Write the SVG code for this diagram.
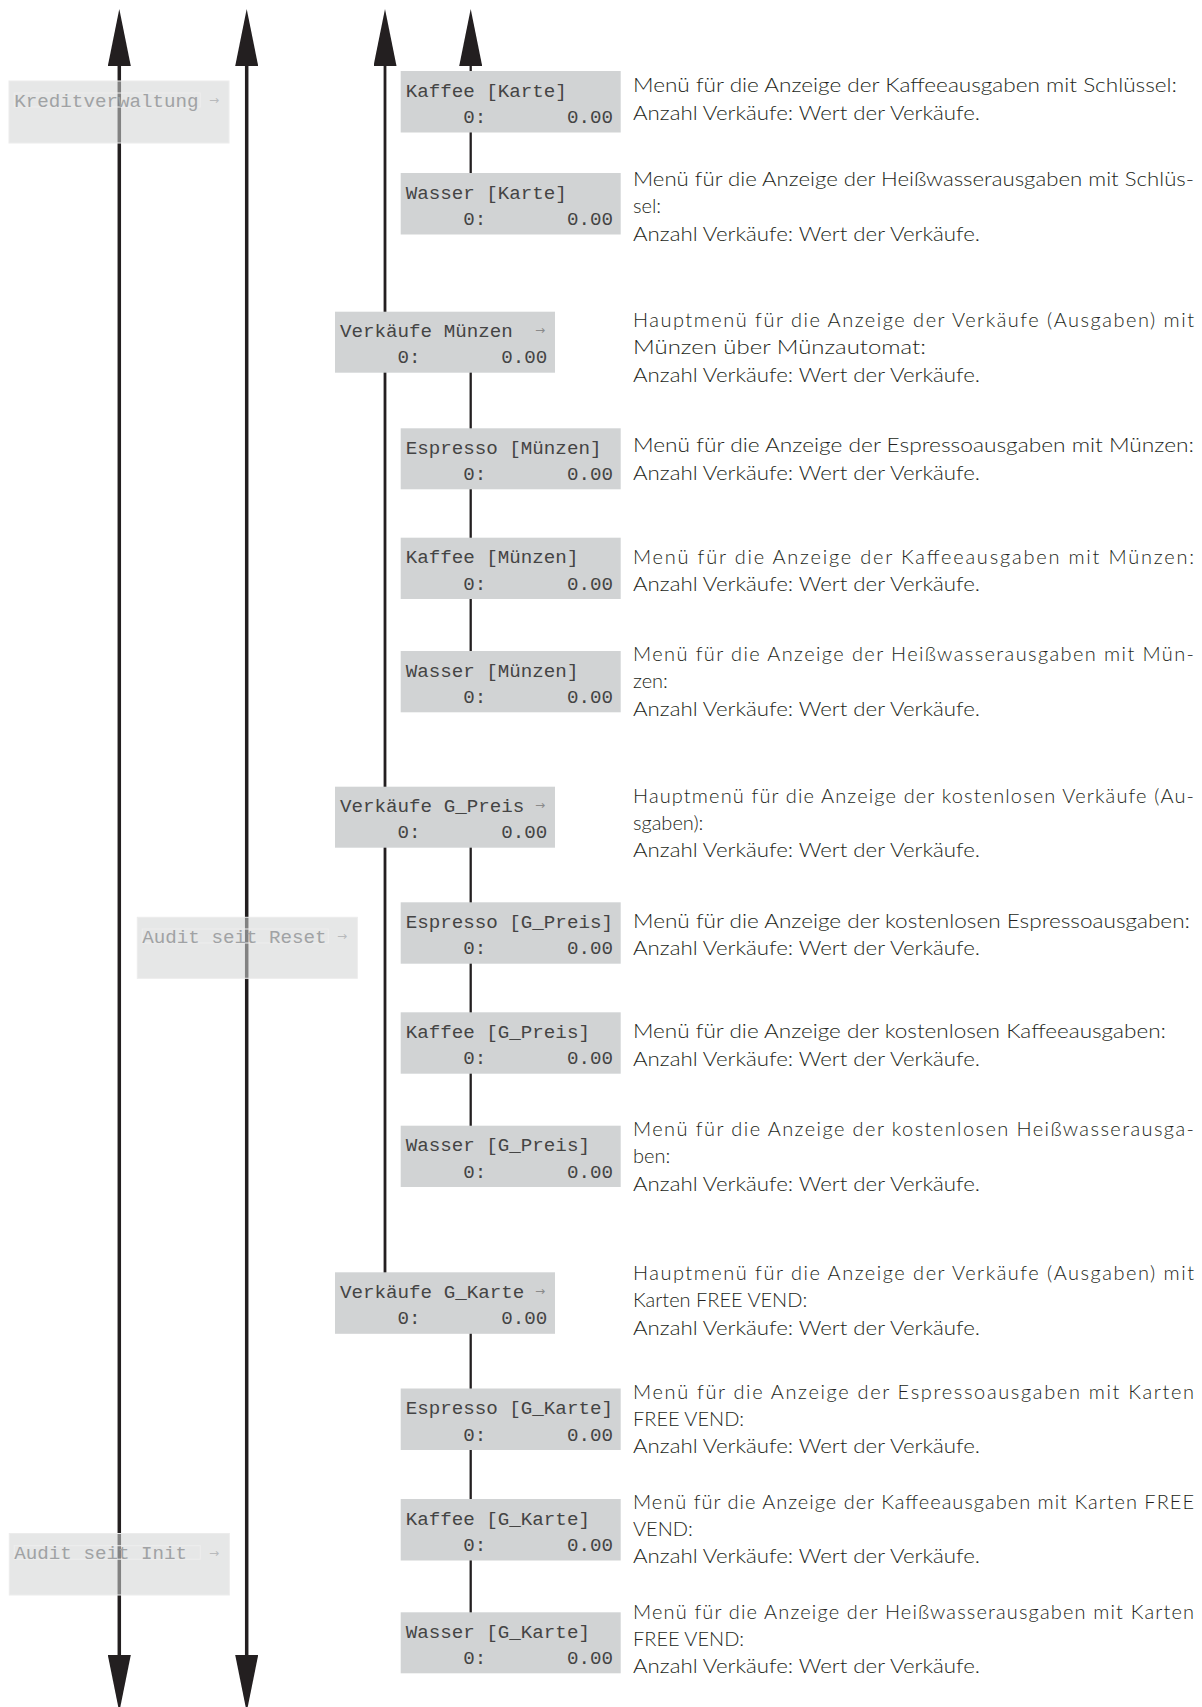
<svg xmlns="http://www.w3.org/2000/svg" width="1202" height="1707" viewBox="0 0 1202 1707">
<style>
.ln{stroke:#231f20;fill:none}
.main{stroke-width:3.5}
.mid{stroke-width:2.8}
.con{stroke-width:2.3}
.box{fill:#d1d3d4}
.lcd{font-family:"Liberation Mono",monospace;font-size:19.2px;fill:#444444;white-space:pre}
.arr{font-family:"DejaVu Sans",sans-serif;font-size:12px;fill:#8a8a8a}
.fbox{fill:#d1d3d4;fill-opacity:0.55;stroke:#ececec;stroke-width:1}
.flcd{font-family:"Liberation Mono",monospace;font-size:19.2px;fill:#a0a2a4;white-space:pre}
.fhl{fill:none;stroke:#eeeeee;stroke-width:1}
.d{font-family:Lato,"Liberation Sans",sans-serif;font-weight:300;font-size:20px;fill:#231f20}
</style>
<defs>
<marker id="ah" viewBox="0 0 57 23" refX="0" refY="11.5" markerWidth="57" markerHeight="23" markerUnits="userSpaceOnUse" orient="auto-start-reverse">
<path d="M0,0 L57,11.5 L0,23 Z" fill="#231f20"/>
</marker>
</defs>

<g id="connectors">
<line class="ln main" x1="119.3" y1="66" x2="119.3" y2="1655" marker-start="url(#ah)" marker-end="url(#ah)"/>
<line class="ln main" x1="246.7" y1="66" x2="246.7" y2="1655" marker-start="url(#ah)" marker-end="url(#ah)"/>
<line class="ln mid" x1="385" y1="66" x2="385" y2="1273" marker-start="url(#ah)"/>
<line class="ln con" x1="470.7" y1="66" x2="470.7" y2="174" marker-start="url(#ah)"/>
<line class="ln con" x1="470.7" y1="372" x2="470.7" y2="652"/>
<line class="ln con" x1="470.7" y1="847" x2="470.7" y2="1127"/>
<line class="ln con" x1="470.7" y1="1333" x2="470.7" y2="1613"/>
</g>

<g id="kreditverwaltung">
<rect class="fbox" x="9" y="81" width="220" height="62"/>
<rect class="fhl" x="14.3" y="93" width="186" height="14"/>
<text class="flcd" x="14.3" y="106.5">Kreditverwaltung</text>
<text class="arr" style="fill:#b8babc" x="209" y="104">→</text>
</g>

<g id="audit-reset">
<rect class="fbox" x="137.3" y="917.3" width="220" height="61"/>
<rect class="fhl" x="142.3" y="929" width="186" height="14"/>
<text class="flcd" x="142.3" y="942.5">Audit seit Reset</text>
<text class="arr" style="fill:#b8babc" x="337" y="940">→</text>
</g>

<g id="audit-init">
<rect class="fbox" x="9.3" y="1533.5" width="220" height="61.5"/>
<rect class="fhl" x="14.3" y="1545.7" width="186" height="13.5"/>
<text class="flcd" x="14.3" y="1559">Audit seit Init</text>
<text class="arr" style="fill:#b8babc" x="209" y="1556.5">→</text>
</g>

<g id="kaffee-karte">
<rect class="box" x="400.7" y="71" width="220" height="61.5"/>
<text class="lcd" x="405.7" y="96.5">Kaffee [Karte]</text>
<text class="lcd" x="405.7" y="123">     0:       0.00</text>
</g>
<g id="wasser-karte">
<rect class="box" x="400.7" y="173" width="220" height="61.5"/>
<text class="lcd" x="405.7" y="198.5">Wasser [Karte]</text>
<text class="lcd" x="405.7" y="225">     0:       0.00</text>
</g>
<g id="verkaeufe-muenzen">
<rect class="box" x="335" y="311.7" width="220" height="61"/>
<text class="lcd" x="340" y="336.7">Verkäufe Münzen</text>
<text class="arr" x="535" y="334">→</text>
<text class="lcd" x="340" y="363.3">     0:       0.00</text>
</g>
<g id="espresso-muenzen">
<rect class="box" x="400.7" y="428.3" width="220" height="61"/>
<text class="lcd" x="405.7" y="453.8">Espresso [Münzen]</text>
<text class="lcd" x="405.7" y="480.3">     0:       0.00</text>
</g>
<g id="kaffee-muenzen">
<rect class="box" x="400.7" y="537.7" width="220" height="61.3"/>
<text class="lcd" x="405.7" y="563.2">Kaffee [Münzen]</text>
<text class="lcd" x="405.7" y="589.7">     0:       0.00</text>
</g>
<g id="wasser-muenzen">
<rect class="box" x="400.7" y="651" width="220" height="61.3"/>
<text class="lcd" x="405.7" y="676.5">Wasser [Münzen]</text>
<text class="lcd" x="405.7" y="703">     0:       0.00</text>
</g>
<g id="verkaeufe-gpreis">
<rect class="box" x="335" y="786.7" width="220" height="61"/>
<text class="lcd" x="340" y="811.7">Verkäufe G_Preis</text>
<text class="arr" x="535" y="809">→</text>
<text class="lcd" x="340" y="838.3">     0:       0.00</text>
</g>
<g id="espresso-gpreis">
<rect class="box" x="400.7" y="902.3" width="220" height="61.4"/>
<text class="lcd" x="405.7" y="927.8">Espresso [G_Preis]</text>
<text class="lcd" x="405.7" y="954.3">     0:       0.00</text>
</g>
<g id="kaffee-gpreis">
<rect class="box" x="400.7" y="1012.3" width="220" height="61.4"/>
<text class="lcd" x="405.7" y="1037.8">Kaffee [G_Preis]</text>
<text class="lcd" x="405.7" y="1064.3">     0:       0.00</text>
</g>
<g id="wasser-gpreis">
<rect class="box" x="400.7" y="1125.7" width="220" height="61.3"/>
<text class="lcd" x="405.7" y="1151.2">Wasser [G_Preis]</text>
<text class="lcd" x="405.7" y="1177.7">     0:       0.00</text>
</g>
<g id="verkaeufe-gkarte">
<rect class="box" x="335" y="1272.3" width="220" height="61.5"/>
<text class="lcd" x="340" y="1297.8">Verkäufe G_Karte</text>
<text class="arr" x="535" y="1295">→</text>
<text class="lcd" x="340" y="1324.3">     0:       0.00</text>
</g>
<g id="espresso-gkarte">
<rect class="box" x="400.7" y="1388.5" width="220" height="61.5"/>
<text class="lcd" x="405.7" y="1414">Espresso [G_Karte]</text>
<text class="lcd" x="405.7" y="1440.5">     0:       0.00</text>
</g>
<g id="kaffee-gkarte">
<rect class="box" x="400.7" y="1499" width="220" height="61.5"/>
<text class="lcd" x="405.7" y="1524.5">Kaffee [G_Karte]</text>
<text class="lcd" x="405.7" y="1551">     0:       0.00</text>
</g>
<g id="wasser-gkarte">
<rect class="box" x="400.7" y="1612.3" width="220" height="61"/>
<text class="lcd" x="405.7" y="1637.8">Wasser [G_Karte]</text>
<text class="lcd" x="405.7" y="1664.3">     0:       0.00</text>
</g>

<g id="descriptions">
<text class="d" x="633" y="91.5" textLength="544" lengthAdjust="spacingAndGlyphs">Menü für die Anzeige der Kaffeeausgaben mit Schlüssel:</text>
<text class="d" x="633" y="119.5" textLength="347" lengthAdjust="spacingAndGlyphs">Anzahl Verkäufe: Wert der Verkäufe.</text>

<text class="d" x="633" y="186" textLength="561" lengthAdjust="spacingAndGlyphs">Menü für die Anzeige der Heißwasserausgaben mit Schlüs-</text>
<text class="d" x="633" y="213.3">sel:</text>
<text class="d" x="633" y="240.6" textLength="347" lengthAdjust="spacingAndGlyphs">Anzahl Verkäufe: Wert der Verkäufe.</text>

<text class="d" x="633" y="327" textLength="561" lengthAdjust="spacing">Hauptmenü für die Anzeige der Verkäufe (Ausgaben) mit</text>
<text class="d" x="633" y="354.3" textLength="293" lengthAdjust="spacingAndGlyphs">Münzen über Münzautomat:</text>
<text class="d" x="633" y="381.6" textLength="347" lengthAdjust="spacingAndGlyphs">Anzahl Verkäufe: Wert der Verkäufe.</text>

<text class="d" x="633" y="452" textLength="561" lengthAdjust="spacingAndGlyphs">Menü für die Anzeige der Espressoausgaben mit Münzen:</text>
<text class="d" x="633" y="479.5" textLength="347" lengthAdjust="spacingAndGlyphs">Anzahl Verkäufe: Wert der Verkäufe.</text>

<text class="d" x="633" y="563.5" textLength="561" lengthAdjust="spacing">Menü für die Anzeige der Kaffeeausgaben mit Münzen:</text>
<text class="d" x="633" y="590.5" textLength="347" lengthAdjust="spacingAndGlyphs">Anzahl Verkäufe: Wert der Verkäufe.</text>

<text class="d" x="633" y="660.5" textLength="561" lengthAdjust="spacing">Menü für die Anzeige der Heißwasserausgaben mit Mün-</text>
<text class="d" x="633" y="688">zen:</text>
<text class="d" x="633" y="715.5" textLength="347" lengthAdjust="spacingAndGlyphs">Anzahl Verkäufe: Wert der Verkäufe.</text>

<text class="d" x="633" y="803" textLength="561" lengthAdjust="spacing">Hauptmenü für die Anzeige der kostenlosen Verkäufe (Au-</text>
<text class="d" x="633" y="830">sgaben):</text>
<text class="d" x="633" y="857" textLength="347" lengthAdjust="spacingAndGlyphs">Anzahl Verkäufe: Wert der Verkäufe.</text>

<text class="d" x="633" y="928" textLength="557" lengthAdjust="spacingAndGlyphs">Menü für die Anzeige der kostenlosen Espressoausgaben:</text>
<text class="d" x="633" y="955" textLength="347" lengthAdjust="spacingAndGlyphs">Anzahl Verkäufe: Wert der Verkäufe.</text>

<text class="d" x="633" y="1038" textLength="533" lengthAdjust="spacingAndGlyphs">Menü für die Anzeige der kostenlosen Kaffeeausgaben:</text>
<text class="d" x="633" y="1065.5" textLength="347" lengthAdjust="spacingAndGlyphs">Anzahl Verkäufe: Wert der Verkäufe.</text>

<text class="d" x="633" y="1136" textLength="561" lengthAdjust="spacing">Menü für die Anzeige der kostenlosen Heißwasserausga-</text>
<text class="d" x="633" y="1163.3">ben:</text>
<text class="d" x="633" y="1190.6" textLength="347" lengthAdjust="spacingAndGlyphs">Anzahl Verkäufe: Wert der Verkäufe.</text>

<text class="d" x="633" y="1280" textLength="561" lengthAdjust="spacing">Hauptmenü für die Anzeige der Verkäufe (Ausgaben) mit</text>
<text class="d" x="633" y="1307.3">Karten FREE VEND:</text>
<text class="d" x="633" y="1334.6" textLength="347" lengthAdjust="spacingAndGlyphs">Anzahl Verkäufe: Wert der Verkäufe.</text>

<text class="d" x="633" y="1398.5" textLength="561" lengthAdjust="spacing">Menü für die Anzeige der Espressoausgaben mit Karten</text>
<text class="d" x="633" y="1425.8">FREE VEND:</text>
<text class="d" x="633" y="1453" textLength="347" lengthAdjust="spacingAndGlyphs">Anzahl Verkäufe: Wert der Verkäufe.</text>

<text class="d" x="633" y="1508.5" textLength="561" lengthAdjust="spacing">Menü für die Anzeige der Kaffeeausgaben mit Karten FREE</text>
<text class="d" x="633" y="1535.8">VEND:</text>
<text class="d" x="633" y="1563" textLength="347" lengthAdjust="spacingAndGlyphs">Anzahl Verkäufe: Wert der Verkäufe.</text>

<text class="d" x="633" y="1618.5" textLength="561" lengthAdjust="spacing">Menü für die Anzeige der Heißwasserausgaben mit Karten</text>
<text class="d" x="633" y="1645.8">FREE VEND:</text>
<text class="d" x="633" y="1673" textLength="347" lengthAdjust="spacingAndGlyphs">Anzahl Verkäufe: Wert der Verkäufe.</text>
</g>
</svg>
